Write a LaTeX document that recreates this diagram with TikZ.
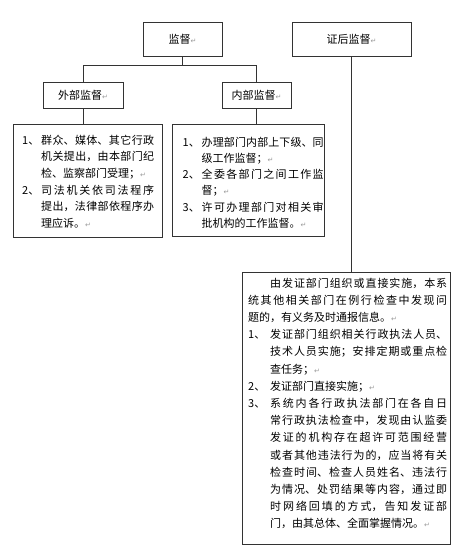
\documentclass[tikz,border=0pt]{standalone}
\usepackage{fontspec}
\setmainfont{Noto Sans CJK SC}
\newfontfamily\markfont{DejaVu Sans}
\XeTeXlinebreaklocale "zh"
\XeTeXlinebreakskip=0pt plus 1pt
\tolerance=9999
\hbadness=10000
\newcommand{\parmark}{{\markfont\fontsize{7}{7}\selectfont\color{black!40}↵}}
\newcommand{\numitem}[3]{{\hangindent=#1\hangafter=1\noindent\makebox[#1][l]{#2}#3\par}}

\begin{document}
\begin{tikzpicture}[x=1pt,y=-1pt,
    frame/.style={draw=black!80,line width=0.9pt,inner sep=0pt},
    head/.style={frame,font=\fontsize{11}{13}\selectfont,minimum height=34},
    sub/.style={frame,font=\fontsize{11}{13}\selectfont,minimum height=26},
    body/.style={inner sep=0pt,anchor=base west,align=justify},
    link/.style={draw=black!80,line width=0.9pt}]
                \useasboundingbox (0,0) rectangle (460,551);

                \node[head,minimum width=79] (jd) at (182.5,39) {监督\parmark};
                \node[head,minimum width=119] (zh) at (351.5,39) {证后监督\parmark};
                \node[sub,minimum width=80] (wb) at (83,95) {外部监督\parmark};
                \node[sub,minimum width=69] (nb) at (256.5,95) {内部监督\parmark};

                \node[frame,minimum width=149,minimum height=113] (wbox) at (87.5,180.5) {};
                \node[frame,minimum width=152,minimum height=112] (nbox) at (248,180) {};
                \node[frame,minimum width=208,minimum height=272] (zbox) at (346,408) {};

                \node[body,text width=132,font=\fontsize{11}{16.7}\selectfont] (wtext) at (22,144) {%
                    \numitem{19pt}{1、}{群众、媒体、其它行政\linebreak 机关提出，由本部门纪\linebreak 检、监察部门受理；\parmark}%
                    \numitem{19pt}{2、}{司法机关依司法程序\linebreak 提出，法律部依程序办\linebreak 理应诉。\parmark}};
                \node[body,text width=141,font=\fontsize{11}{16.3}\selectfont] (ntext) at (182.5,146) {%
                    \numitem{19pt}{1、}{办理部门内部上下级、同\linebreak 级工作监督；\parmark}%
                    \numitem{19pt}{2、}{全委各部门之间工作监\linebreak 督；\parmark}%
                    \numitem{19pt}{3、}{许可办理部门对相关审\linebreak 批机构的工作监督。\parmark}};
                \node[body,text width=199,font=\fontsize{11}{17.2}\selectfont] (ztext) at (248,287) {%
                    \noindent\hspace*{22pt}由发证部门组织或直接实施，本系\linebreak 统其他相关部门在例行检查中发现问\linebreak 题的，有义务及时通报信息。\parmark\par
                    \numitem{22pt}{1、}{发证部门组织相关行政执法人员、\linebreak 技术人员实施；安排定期或重点检\linebreak 查任务；\parmark}%
                    \numitem{22pt}{2、}{发证部门直接实施；\parmark}%
                    \numitem{22pt}{3、}{系统内各行政执法部门在各自日\linebreak 常行政执法检查中，发现由认监委\linebreak 发证的机构存在超许可范围经营\linebreak 或者其他违法行为的，应当将有关\linebreak 检查时间、检查人员姓名、违法行\linebreak 为情况、处罚结果等内容，通过即\linebreak 时网络回填的方式，告知发证部\linebreak 门，由其总体、全面掌握情况。\parmark}};

                \coordinate (split) at (182.5,65);

                \draw[link] (jd.south) -- (split);
                \draw[link] (split) -| (wb.north);
                \draw[link] (split) -| (nb.north);
                \draw[link] (wb.south) -- (wb.south |- wbox.north);
                \draw[link] (nb.south) -- (nb.south |- nbox.north);
                \draw[link] (zh.south) -- (zh.south |- zbox.north);
\end{tikzpicture}
\end{document}
